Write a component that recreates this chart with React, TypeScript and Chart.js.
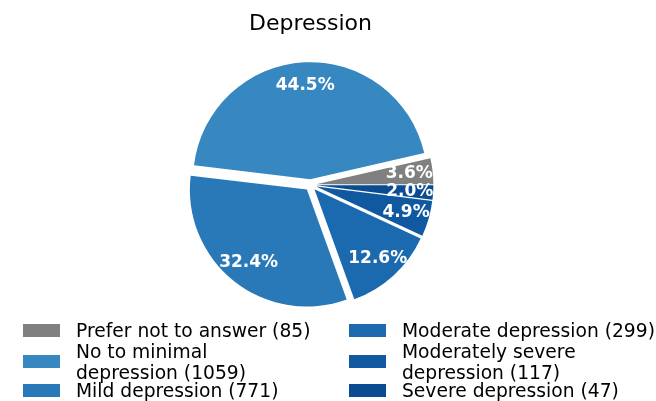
import React, { useEffect, useRef } from 'react';
import { Chart, registerables } from 'chart.js';

Chart.register(...registerables);

// ---- data ----
const categories = [
  'Prefer not to answer',
  'No to minimal depression',
  'Mild depression',
  'Moderate depression',
  'Moderately severe depression',
  'Severe depression',
];
const counts = [85, 1059, 771, 299, 117, 47];
const legendLabels = [
  ['Prefer not to answer (85)'],
  ['No to minimal', 'depression (1059)'],
  ['Mild depression (771)'],
  ['Moderate depression (299)'],
  ['Moderately severe', 'depression (117)'],
  ['Severe depression (47)'],
];
const titleText = 'Depression';

// ---- style ----
const colors = ['#808080', '#3787c0', '#2979b9', '#1b69af', '#1059a1', '#0a4b92'];
const EXPLODE = 0.05;
const PCT_DIST = 0.8;
const RADIUS = 117;
const FONT = '"DejaVu Sans", "Noto Sans", sans-serif';

export default function App() {
  const ref = useRef<HTMLCanvasElement>(null);

  useEffect(() => {
    const canvas = ref.current;
    if (!canvas) return;
    const total = counts.reduce((a, b) => a + b, 0);
    // matplotlib draws counter-clockwise from east; Chart.js clockwise -> reverse
    const order = counts.map((_, i) => counts.length - 1 - i);

    const explodePlugin = {
      id: 'explodeSlices',
      afterUpdate(chart: any) {
        const meta = chart.getDatasetMeta(0);
        meta.data.forEach((arc: any) => {
          const mid = (arc.startAngle + arc.endAngle) / 2;
          const t = EXPLODE * arc.outerRadius;
          arc.x += Math.cos(mid) * t;
          arc.y += Math.sin(mid) * t;
        });
      },
    };

    const pctPlugin = {
      id: 'pctLabels',
      afterDatasetsDraw(chart: any) {
        const ctx = chart.ctx;
        const meta = chart.getDatasetMeta(0);
        const data = chart.data.datasets[0].data as number[];
        ctx.save();
        ctx.fillStyle = '#ffffff';
        ctx.font = `bold 17px ${FONT}`;
        ctx.textAlign = 'center';
        ctx.textBaseline = 'middle';
        meta.data.forEach((arc: any, i: number) => {
          const mid = (arc.startAngle + arc.endAngle) / 2;
          const r = PCT_DIST * arc.outerRadius;
          const txt = ((data[i] / total) * 100).toFixed(1) + '%';
          ctx.fillText(txt, arc.x + Math.cos(mid) * r, arc.y + Math.sin(mid) * r);
        });
        ctx.restore();
      },
    };

    const chart = new Chart(canvas, {
      type: 'pie',
      data: {
        labels: order.map((i) => categories[i]),
        datasets: [
          {
            data: order.map((i) => counts[i]),
            backgroundColor: order.map((i) => colors[i]),
            borderWidth: 0,
          },
        ],
      },
      options: {
        responsive: false,
        animation: false,
        devicePixelRatio: 1,
        events: [],
        rotation: 90,
        radius: RADIUS,
        layout: { padding: { left: 0, right: 35, top: 0, bottom: 78.4 } },
        plugins: {
          legend: { display: false },
          tooltip: { enabled: false },
          title: {
            display: true,
            text: titleText,
            color: '#000000',
            font: { family: FONT, size: 22, weight: 'normal', lineHeight: 1.2 },
            padding: { top: 11, bottom: 10 },
          },
        },
      },
      plugins: [explodePlugin, pctPlugin],
    });
    return () => chart.destroy();
  }, []);

  const colX = [{ sw: 23, tx: 76 }, { sw: 349, tx: 402 }];
  const rowY = [330, 361.5, 390.5];
  const lineH = 21;

  return (
    <div style={{ position: 'absolute', left: 0, top: 0, width: 656, height: 401, background: '#fff' }}>
      <canvas ref={ref} width={656} height={401} style={{ position: 'absolute', left: 0, top: 0, width: 656, height: 401 }} />
      {legendLabels.map((lines, i) => {
        const col = colX[Math.floor(i / 3)];
        const cy = rowY[i % 3];
        return (
          <React.Fragment key={i}>
            <div
              style={{
                position: 'absolute',
                left: col.sw,
                top: cy - 6.5,
                width: 37,
                height: 13,
                background: colors[i],
              }}
            />
            <div
              style={{
                position: 'absolute',
                left: col.tx,
                top: cy - (lines.length * lineH) / 2,
                fontFamily: FONT,
                fontSize: 18.7,
                lineHeight: `${lineH}px`,
                color: '#000',
                whiteSpace: 'nowrap',
              }}
            >
              {lines.map((l, j) => (
                <div key={j}>{l}</div>
              ))}
            </div>
          </React.Fragment>
        );
      })}
    </div>
  );
}
